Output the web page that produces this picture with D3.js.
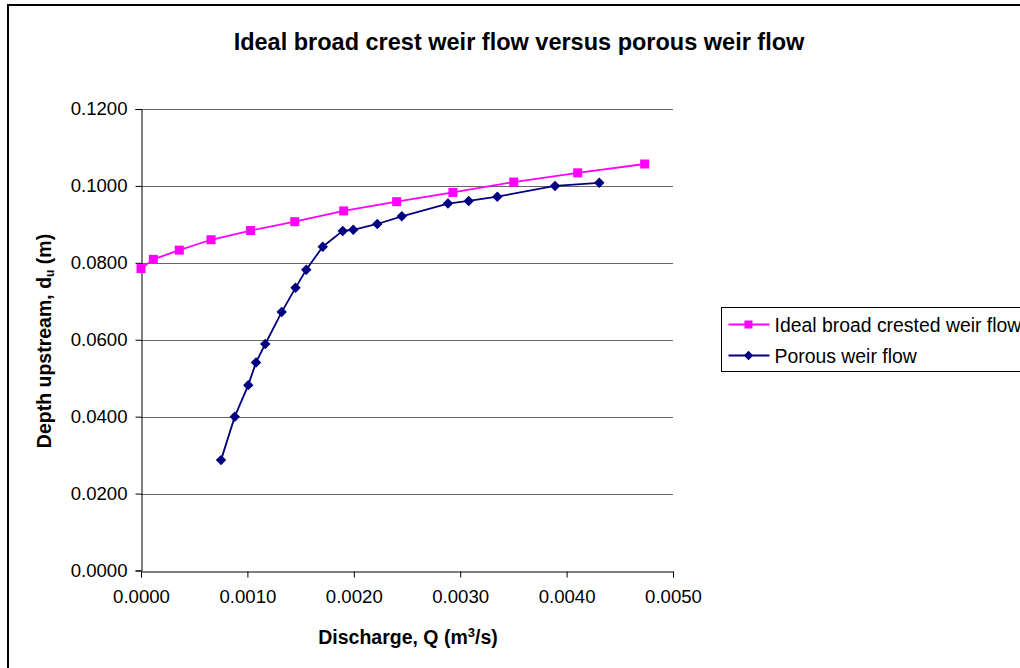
<!DOCTYPE html>
<html>
<head>
<meta charset="utf-8">
<script src="https://cdn.jsdelivr.net/npm/d3@7"></script>
<style>
  body { margin: 0; background: #fff; }
  svg { display: block; font-family: "Liberation Sans", Arial, sans-serif; }
</style>
</head>
<body>
<div id="chart"></div>
<script>
// Data

const idealQ = [0.0000, 0.000116, 0.00036, 0.000658, 0.00103, 0.001445, 0.001905, 0.002403, 0.002932, 0.003503, 0.004104, 0.004734]
const idealDepth = [0.0785, 0.0809, 0.0833, 0.0860, 0.0884, 0.0907, 0.0935, 0.0959, 0.0983, 0.1010, 0.1034, 0.1057]

const porousQ = [0.000752, 0.000881, 0.001008, 0.001081, 0.001168, 0.001322, 0.001452, 0.001553, 0.001708, 0.001896, 0.001995, 0.002221, 0.002451, 0.002885, 0.003080, 0.003349, 0.003891, 0.004307]
const porousDepth = [0.0287, 0.0400, 0.0482, 0.0541, 0.0589, 0.0672, 0.0735, 0.0782, 0.0842, 0.0883, 0.0886, 0.0901, 0.0921, 0.0954, 0.0961, 0.0972, 0.1000, 0.1008]

const xTicks = [0, 0.001, 0.002, 0.003, 0.004, 0.005]
const yTicks = [0, 0.02, 0.04, 0.06, 0.08, 0.1, 0.12]

const seriesNames = ['Ideal broad crested weir flow', 'Porous weir flow']
const titleText = 'Ideal broad crest weir flow versus porous weir flow'

// Build chart

const svgWidth = 1020
const svgHeight = 668
const plot = { left: 141, right: 673, top: 109, bottom: 570.5 }

const svg = d3
	.select('#chart')
	.append('svg')
	.attr('width', svgWidth)
	.attr('height', svgHeight)

// outer frame (right / bottom edges fall off the picture)
svg
	.append('rect')
	.attr('x', 8)
	.attr('y', 5)
	.attr('width', 1100)
	.attr('height', 800)
	.attr('fill', '#fff')
	.attr('stroke', '#000')
	.attr('stroke-width', 2)

const x = d3.scaleLinear().domain([0, 0.005]).range([plot.left, plot.right])
const y = d3.scaleLinear().domain([0, 0.12]).range([plot.bottom, plot.top])

// gridlines
svg
	.append('g')
	.selectAll('line')
	.data(yTicks.filter((d) => d > 0))
	.enter()
	.append('line')
	.attr('x1', plot.left)
	.attr('x2', plot.right)
	.attr('y1', (d) => Math.round(y(d)) + 0.5)
	.attr('y2', (d) => Math.round(y(d)) + 0.5)
	.attr('stroke', '#666')
	.attr('stroke-width', 1)

// axes
const xAxis = svg
	.append('g')
	.attr('transform', `translate(0,${Math.round(plot.bottom) + 0.5})`)
	.call(d3.axisBottom(x).tickValues(xTicks).tickFormat(d3.format('.4f')).tickSizeOuter(0).tickSize(6).tickPadding(12))

const yAxis = svg
	.append('g')
	.attr('transform', `translate(${plot.left + 0.5},0)`)
	.call(d3.axisLeft(y).tickValues(yTicks).tickFormat(d3.format('.4f')).tickSizeOuter(0).tickSize(6).tickPadding(8))

;[xAxis, yAxis].forEach((ax) => {
	ax.select('.domain').attr('stroke', '#000')
	ax.selectAll('.tick line').attr('stroke', '#000')
	ax.selectAll('.tick text').attr('font-size', 18.6).attr('fill', '#000').attr('font-family', '"Liberation Sans", Arial, sans-serif')
})

// lines
const line = d3
	.line()
	.x((d) => x(d[0]))
	.y((d) => y(d[1]))

const idealData = idealQ.map((q, i) => [q, idealDepth[i]])
const porousData = porousQ.map((q, i) => [q, porousDepth[i]])

svg
	.append('path')
	.datum(idealData)
	.attr('fill', 'none')
	.attr('stroke', '#ff00ff')
	.attr('stroke-width', 1.8)
	.attr('d', line)

svg
	.selectAll('.sq')
	.data(idealData)
	.enter()
	.append('rect')
	.attr('class', 'sq')
	.attr('x', (d) => x(d[0]) - 4.5)
	.attr('y', (d) => y(d[1]) - 4.5)
	.attr('width', 9)
	.attr('height', 9)
	.attr('fill', '#ff00ff')

svg
	.append('path')
	.datum(porousData)
	.attr('fill', 'none')
	.attr('stroke', '#000080')
	.attr('stroke-width', 1.8)
	.attr('d', line)

const diamond = d3.symbol().type(d3.symbolDiamond2).size(70)

svg
	.selectAll('.dm')
	.data(porousData)
	.enter()
	.append('path')
	.attr('class', 'dm')
	.attr('transform', (d) => `translate(${x(d[0])},${y(d[1])})`)
	.attr('d', diamond)
	.attr('fill', '#000080')

// title
svg
	.append('text')
	.attr('x', 519)
	.attr('y', 50)
	.attr('text-anchor', 'middle')
	.attr('font-size', 23.5)
	.attr('font-weight', 'bold')
	.text(titleText)

// x label
const xl = svg
	.append('text')
	.attr('x', 408)
	.attr('y', 644)
	.attr('text-anchor', 'middle')
	.attr('font-size', 19.5)
	.attr('font-weight', 'bold')
xl.append('tspan').text('Discharge, Q (m')
xl.append('tspan').attr('baseline-shift', 'super').attr('font-size', 13).text('3')
xl.append('tspan').text('/s)')

// y label
const yl = svg
	.append('text')
	.attr('transform', 'translate(51,341) rotate(-90)')
	.attr('text-anchor', 'middle')
	.attr('font-size', 19.5)
	.attr('font-weight', 'bold')
yl.append('tspan').text('Depth upstream, d')
yl.append('tspan').attr('baseline-shift', '-3').attr('font-size', 12).text('u')
yl.append('tspan').text(' (m)')

// legend
const legend = svg.append('g').attr('transform', 'translate(721.5,307.5)')
legend
	.append('rect')
	.attr('width', 400)
	.attr('height', 64)
	.attr('fill', '#fff')
	.attr('stroke', '#000')

const colors = ['#ff00ff', '#000080']
seriesNames.forEach((name, i) => {
	const row = legend.append('g').attr('transform', `translate(0,${17 + i * 31})`)
	row
		.append('line')
		.attr('x1', 7)
		.attr('x2', 48)
		.attr('stroke', colors[i])
		.attr('stroke-width', 1.8)
	if (i === 0) {
		row.append('rect').attr('x', 23).attr('y', -4).attr('width', 8).attr('height', 8).attr('fill', colors[i])
	} else {
		row.append('path').attr('transform', 'translate(27,0)').attr('d', d3.symbol().type(d3.symbolDiamond2).size(55)).attr('fill', colors[i])
	}
	row
		.append('text')
		.attr('x', 53)
		.attr('y', 7)
		.attr('font-size', 19.4)
		.text(name)
})
</script>
</body>
</html>
